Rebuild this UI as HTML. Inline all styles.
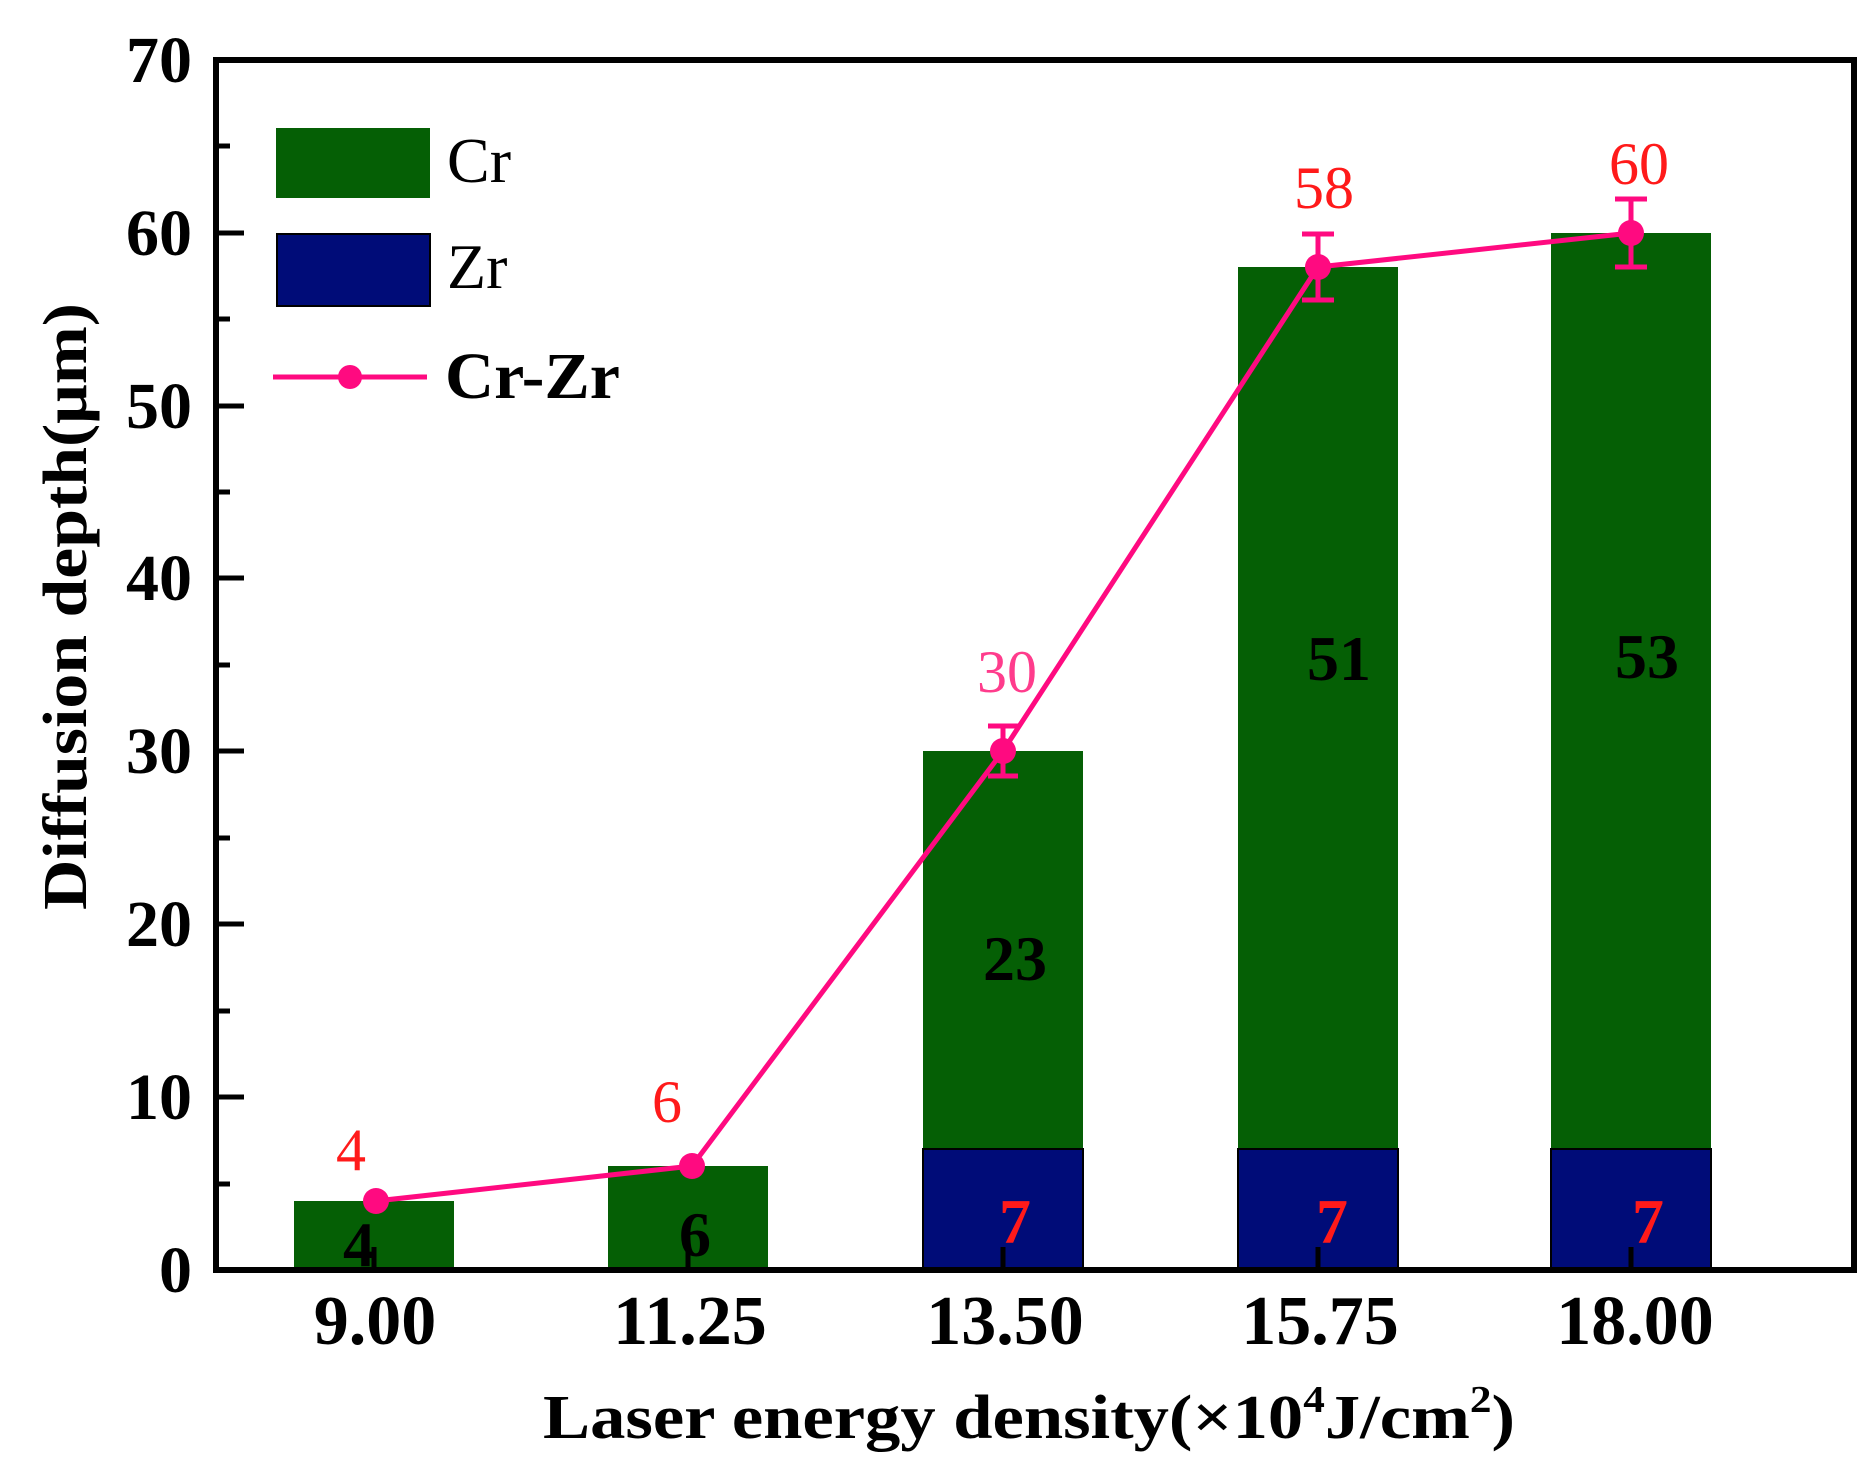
<!DOCTYPE html>
<html><head><meta charset="utf-8"><style>
html,body{margin:0;padding:0;background:#fff;}
svg{display:block;}
text{font-family:"Liberation Serif",serif;}
</style></head><body>
<svg width="1869" height="1476" viewBox="0 0 1869 1476" xmlns="http://www.w3.org/2000/svg">
<g>
<rect x="294" y="1201" width="160" height="69" fill="#055f05"/>
<rect x="608" y="1166" width="160" height="104" fill="#055f05"/>
<rect x="923" y="751" width="160" height="398" fill="#055f05"/>
<rect x="923" y="1149" width="160" height="121" fill="#000c78" stroke="#000" stroke-width="2"/>
<rect x="1238" y="267" width="160" height="882" fill="#055f05"/>
<rect x="1238" y="1149" width="160" height="121" fill="#000c78" stroke="#000" stroke-width="2"/>
<rect x="1551" y="233" width="160" height="916" fill="#055f05"/>
<rect x="1551" y="1149" width="160" height="121" fill="#000c78" stroke="#000" stroke-width="2"/>
</g>
<g stroke="#000" stroke-width="6" fill="none">
<rect x="216" y="60" width="1638" height="1210"/>
</g>
<g stroke="#000" stroke-width="5">
<line x1="216" y1="1097" x2="244" y2="1097"/>
<line x1="216" y1="924" x2="244" y2="924"/>
<line x1="216" y1="751" x2="244" y2="751"/>
<line x1="216" y1="578" x2="244" y2="578"/>
<line x1="216" y1="406" x2="244" y2="406"/>
<line x1="216" y1="233" x2="244" y2="233"/>
<line x1="216" y1="1184" x2="230" y2="1184"/>
<line x1="216" y1="1011" x2="230" y2="1011"/>
<line x1="216" y1="838" x2="230" y2="838"/>
<line x1="216" y1="665" x2="230" y2="665"/>
<line x1="216" y1="492" x2="230" y2="492"/>
<line x1="216" y1="319" x2="230" y2="319"/>
<line x1="216" y1="146" x2="230" y2="146"/>
<line x1="374" y1="1270" x2="374" y2="1247"/>
<line x1="688" y1="1270" x2="688" y2="1247"/>
<line x1="1003" y1="1270" x2="1003" y2="1247"/>
<line x1="1318" y1="1270" x2="1318" y2="1247"/>
<line x1="1631" y1="1270" x2="1631" y2="1247"/>
</g>
<g font-size="66" font-weight="bold" text-anchor="end" fill="#000">
<text x="192" y="1292">0</text>
<text x="192" y="1119">10</text>
<text x="192" y="946">20</text>
<text x="192" y="773">30</text>
<text x="192" y="600">40</text>
<text x="192" y="428">50</text>
<text x="192" y="255">60</text>
<text x="192" y="82">70</text>
</g>
<g font-size="70" font-weight="bold" text-anchor="middle" fill="#000">
<text x="375" y="1344">9.00</text>
<text x="690" y="1344">11.25</text>
<text x="1005" y="1344">13.50</text>
<text x="1320" y="1344">15.75</text>
<text x="1635" y="1344">18.00</text>
</g>
<text x="543" y="1438" font-size="62" font-weight="bold" textLength="972" lengthAdjust="spacingAndGlyphs">Laser energy density(×10<tspan font-size="38" dy="-26">4</tspan><tspan dy="26">J/cm</tspan><tspan font-size="38" dy="-26">2</tspan><tspan dy="26">)</tspan></text>
<text transform="translate(86,910) rotate(-90)" x="0" y="0" font-size="62" font-weight="bold" textLength="607" lengthAdjust="spacingAndGlyphs">Diffusion depth(μm)</text>
<g font-size="64" font-weight="bold" text-anchor="middle" fill="#000">
<text x="359" y="1266">4</text>
<text x="695" y="1256">6</text>
<text x="1015" y="980">23</text>
<text x="1339" y="680">51</text>
<text x="1647" y="678">53</text>
</g>
<g font-size="64" font-weight="bold" text-anchor="middle" fill="#ff1a1a">
<text x="1015" y="1243">7</text>
<text x="1332" y="1243">7</text>
<text x="1648" y="1243">7</text>
</g>
<polyline points="376,1201 692,1166 1003,751 1318,267 1631,233" fill="none" stroke="#ff0a80" stroke-width="5"/>
<g stroke="#ff0a80" stroke-width="5">
<line x1="1003" y1="726" x2="1003" y2="776"/><line x1="988" y1="726" x2="1018" y2="726"/><line x1="988" y1="776" x2="1018" y2="776"/>
<line x1="1318" y1="234" x2="1318" y2="300"/><line x1="1302" y1="234" x2="1334" y2="234"/><line x1="1302" y1="300" x2="1334" y2="300"/>
<line x1="1631" y1="199" x2="1631" y2="267"/><line x1="1615" y1="199" x2="1647" y2="199"/><line x1="1615" y1="267" x2="1647" y2="267"/>
</g>
<g fill="#ff0a80">
<circle cx="376" cy="1201" r="13"/>
<circle cx="692" cy="1166" r="13"/>
<circle cx="1003" cy="751" r="13"/>
<circle cx="1318" cy="267" r="13"/>
<circle cx="1631" cy="233" r="13"/>
</g>
<g font-size="60" text-anchor="middle" fill="#ff1a1a">
<text x="351" y="1170">4</text>
<text x="667" y="1122">6</text>
<text x="1007" y="692" fill="#ff3c8c">30</text>
<text x="1324" y="208">58</text>
<text x="1639" y="184">60</text>
</g>
<rect x="276" y="128" width="154" height="70" fill="#055f05"/>
<rect x="277" y="234" width="153" height="72" fill="#000c78" stroke="#000" stroke-width="2"/>
<line x1="273" y1="377" x2="427" y2="377" stroke="#ff0a80" stroke-width="5"/>
<circle cx="350" cy="377" r="12" fill="#ff0a80"/>
<text x="447" y="182" font-size="64" fill="#000">Cr</text>
<text x="447" y="288" font-size="64" fill="#000">Zr</text>
<text x="445" y="398" font-size="66" font-weight="bold" fill="#000" textLength="175" lengthAdjust="spacingAndGlyphs">Cr-Zr</text>
</svg>
</body></html>
